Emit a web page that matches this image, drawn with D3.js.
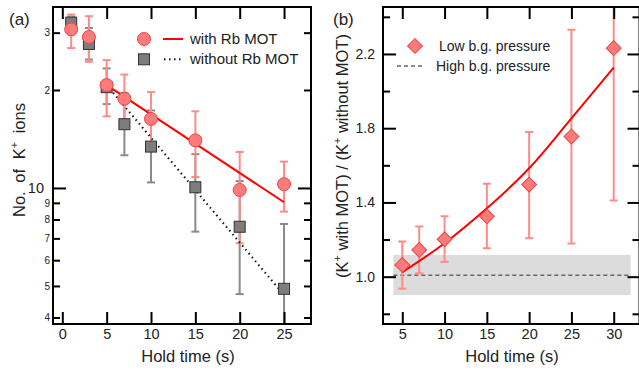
<!DOCTYPE html>
<html>
<head>
<meta charset="utf-8">
<script src="https://cdn.jsdelivr.net/npm/d3@7"></script>
<style>
  html, body { margin: 0; padding: 0; background: #fff; }
  svg { display: block; font-family: 'Liberation Sans', Arial, sans-serif; }
</style>
</head>
<body>
<svg id="chart" width="639" height="371"></svg>
<script>
// panel (a): K+ ion counts vs hold time
const holdA = [1, 3, 5, 7, 10, 15, 20, 25];
const withMot = [30.7, 29.1, 20.7, 18.8, 16.3, 14.0, 9.86, 10.27];
const withMotHi = [34.1, 33.7, 24.7, 22.3, 19.7, 17.2, 12.9, 12.05];
const withMotLo = [26.9, 24.4, 16.6, 15.8, 13.5, 10.8, 6.76, 8.46];
const withoutMot = [32.2, 27.7, 20.4, 15.7, 13.4, 10.05, 7.6, 4.9];
const withoutMotHi = [33.6, 31.0, 23.3, 19.6, 17.3, 12.7, 10.5, 7.75];
const withoutMotLo = [30.4, 24.8, 18.1, 12.6, 10.4, 7.34, 4.72, 3.0];
const fitAx = [5, 25];
const fitWithY = [20.7, 9.04];
const fitWithoutY = [20.7, 4.69];
const xTicksA = [0, 5, 10, 15, 20, 25];
const yMinorA = [4, 5, 6, 7, 8, 9, 20, 30];
const yMajorA = [10];

// panel (b): ratio with / without MOT
const holdB = [5, 7, 10, 15, 20, 25, 30];
const ratio = [1.063, 1.144, 1.201, 1.325, 1.496, 1.755, 2.231];
const ratioHi = [1.19, 1.27, 1.325, 1.50, 1.78, 2.33, 3.05];
const ratioLo = [0.935, 1.018, 1.08, 1.153, 1.207, 1.179, 1.41];
const fitBx = [5, 10, 15, 20, 25, 30];
const fitBy = [1.024, 1.18, 1.368, 1.584, 1.853, 2.126];
const highX = [3.94, 32];
const highMean = 1.008;
const highLo = 0.901;
const highHi = 1.117;
const xTicksB = [5, 10, 15, 20, 25, 30];
const yMajorB = [1.0, 1.4, 1.8, 2.2];
const yMinorB = [0.8, 1.2, 1.6, 2.0, 2.4];

const svg = d3.select('#chart');
const red = '#ff0000', ptFill = '#ff7a7a', ptStroke = '#ee4444', barRed = '#ff8a8a';
const grayBar = '#8a8a8a';

function frame(g, x, y, l, r, t, b) {
  g.append('rect').attr('x', l).attr('y', t).attr('width', r - l).attr('height', b - t)
    .attr('fill', 'none').attr('stroke', '#000').attr('stroke-width', 2);
}

function styleAxis(sel, fs) {
  sel.select('.domain').remove();
  sel.selectAll('.tick line').attr('stroke', '#000').attr('stroke-width', 2);
  sel.selectAll('.tick text').attr('font-size', fs).attr('fill', '#222')
    .attr('font-family', "'Liberation Sans', Arial, sans-serif");
}

function errBars(g, xs, lo, hi, x, y, color, cap) {
  const grp = g.append('g');
  xs.forEach((d, i) => {
    grp.append('line').attr('x1', x(d)).attr('x2', x(d)).attr('y1', y(lo[i])).attr('y2', y(hi[i]))
      .attr('stroke', color).attr('stroke-width', 2);
    [lo[i], hi[i]].forEach(v => {
      grp.append('line').attr('x1', x(d) - cap).attr('x2', x(d) + cap).attr('y1', y(v)).attr('y2', y(v))
        .attr('stroke', color).attr('stroke-width', 2);
    });
  });
}

// ---------- panel (a)
const aL = 53, aR = 311, aT = 7, aB = 324;
const xA = d3.scaleLinear().domain([-1.05, 28.04]).range([aL, aR]);
const yA = d3.scaleLog().domain([3.82, 35.97]).range([aB, aT]);
const ga = svg.append('g');
ga.append('clipPath').attr('id', 'clipA').append('rect')
  .attr('x', aL).attr('y', aT).attr('width', aR - aL).attr('height', aB - aT);
const pa = ga.append('g').attr('clip-path', 'url(#clipA)');

errBars(pa, holdA, withoutMotLo, withoutMotHi, xA, yA, grayBar, 4);
errBars(pa, holdA, withMotLo, withMotHi, xA, yA, barRed, 4);

pa.append('path')
  .datum(fitAx.map((d, i) => [d, fitWithoutY[i]]))
  .attr('d', d3.line().x(d => xA(d[0])).y(d => yA(d[1])))
  .attr('fill', 'none').attr('stroke', '#111').attr('stroke-width', 2).attr('stroke-dasharray', '1.5,3.5');

pa.selectAll('rect.sq').data(holdA).join('rect').attr('class', 'sq')
  .attr('x', (d) => xA(d) - 5.5).attr('y', (d, i) => yA(withoutMot[i]) - 5.5)
  .attr('width', 11).attr('height', 11)
  .attr('fill', '#7d7d7d').attr('stroke', '#333').attr('stroke-width', 1);

pa.append('path')
  .datum(fitAx.map((d, i) => [d, fitWithY[i]]))
  .attr('d', d3.line().x(d => xA(d[0])).y(d => yA(d[1])))
  .attr('fill', 'none').attr('stroke', red).attr('stroke-width', 2);

pa.selectAll('circle.pt').data(holdA).join('circle').attr('class', 'pt')
  .attr('cx', d => xA(d)).attr('cy', (d, i) => yA(withMot[i])).attr('r', 6.5)
  .attr('fill', ptFill).attr('stroke', ptStroke).attr('stroke-width', 1);

// axes (a)
ga.append('g').attr('transform', `translate(0,${aB})`)
  .call(d3.axisBottom(xA).tickValues(xTicksA).tickSize(-12).tickPadding(5))
  .call(s => styleAxis(s, 14.5));
ga.append('g').attr('transform', `translate(0,${aT})`)
  .call(d3.axisTop(xA).tickValues(xTicksA).tickSize(-12).tickFormat(''))
  .call(s => styleAxis(s, 14));
ga.append('g').attr('transform', `translate(${aL},0)`)
  .call(d3.axisLeft(yA).tickValues(yMinorA).tickSize(-7).tickPadding(3)
    .tickFormat(d => String(d).charAt(0)))
  .call(s => styleAxis(s, 10));
ga.append('g').attr('transform', `translate(${aL},0)`)
  .call(d3.axisLeft(yA).tickValues(yMajorA).tickSize(-13).tickPadding(9).tickFormat(d3.format('d')))
  .call(s => styleAxis(s, 14.5));
ga.append('g').attr('transform', `translate(${aR},0)`)
  .call(d3.axisRight(yA).tickValues(yMinorA).tickSize(-7).tickFormat(''))
  .call(s => styleAxis(s, 10));
ga.append('g').attr('transform', `translate(${aR},0)`)
  .call(d3.axisRight(yA).tickValues(yMajorA).tickSize(-13).tickFormat(''))
  .call(s => styleAxis(s, 10));
frame(ga, xA, yA, aL, aR, aT, aB);

ga.append('text').attr('x', 9).attr('y', 25).attr('font-size', 17).attr('fill', '#222').text('(a)');
ga.append('text').attr('x', (aL + aR) / 2 + 6).attr('y', 362).attr('text-anchor', 'middle')
  .attr('font-size', 16.5).attr('fill', '#222').text('Hold time (s)');
const ta = ga.append('text').attr('transform', 'translate(25,160) rotate(-90)')
  .attr('text-anchor', 'middle').attr('font-size', 16.5).attr('fill', '#222');
ta.append('tspan').text('No.');
ta.append('tspan').attr('dx', 4).text(' of');
ta.append('tspan').attr('dx', 5).text(' K');
ta.append('tspan').attr('dy', -7).attr('font-size', 11).text('+');
ta.append('tspan').attr('dy', 7).attr('dx', 4).text(' ions');

// legend (a)
ga.append('circle').attr('cx', 144).attr('cy', 39).attr('r', 6.5)
  .attr('fill', ptFill).attr('stroke', ptStroke);
ga.append('line').attr('x1', 163).attr('x2', 183).attr('y1', 39).attr('y2', 39)
  .attr('stroke', red).attr('stroke-width', 2);
ga.append('text').attr('x', 190).attr('y', 43.5).attr('font-size', 15).attr('fill', '#222').text('with Rb MOT');
ga.append('rect').attr('x', 138.5).attr('y', 53.8).attr('width', 11).attr('height', 11)
  .attr('fill', '#7d7d7d').attr('stroke', '#333');
ga.append('line').attr('x1', 164).attr('x2', 184).attr('y1', 59.3).attr('y2', 59.3)
  .attr('stroke', '#111').attr('stroke-width', 2).attr('stroke-dasharray', '1.5,3.5');
ga.append('text').attr('x', 190).attr('y', 63.8).attr('font-size', 15).attr('fill', '#222').text('without Rb MOT');

// ---------- panel (b)
const bL = 383, bR = 639.5, bT = 7, bB = 324;
const xB = d3.scaleLinear().domain([2.72, 33.05]).range([bL, bR]);
const yB = d3.scaleLinear().domain([0.745, 2.453]).range([bB, bT]);
const gb = svg.append('g');
gb.append('clipPath').attr('id', 'clipB').append('rect')
  .attr('x', bL).attr('y', bT).attr('width', bR - bL).attr('height', bB - bT);
const pb = gb.append('g').attr('clip-path', 'url(#clipB)');

pb.append('rect').attr('x', xB(highX[0])).attr('y', yB(highHi))
  .attr('width', xB(highX[1]) - xB(highX[0])).attr('height', yB(highLo) - yB(highHi))
  .attr('fill', '#dcdcdc');
pb.append('line').attr('x1', xB(highX[0])).attr('x2', xB(highX[1]))
  .attr('y1', yB(highMean)).attr('y2', yB(highMean))
  .attr('stroke', '#666').attr('stroke-width', 1.5).attr('stroke-dasharray', '4,3');

errBars(pb, holdB, ratioLo, ratioHi, xB, yB, barRed, 4);

pb.append('path')
  .datum(fitBx.map((d, i) => [d, fitBy[i]]))
  .attr('d', d3.line().x(d => xB(d[0])).y(d => yB(d[1])).curve(d3.curveMonotoneX))
  .attr('fill', 'none').attr('stroke', red).attr('stroke-width', 2);

const diamond = d3.symbol().type(d3.symbolSquare).size(110);
pb.selectAll('path.dm').data(holdB).join('path').attr('class', 'dm')
  .attr('d', diamond)
  .attr('transform', (d, i) => `translate(${xB(d)},${yB(ratio[i])}) rotate(45)`)
  .attr('fill', ptFill).attr('stroke', ptStroke).attr('stroke-width', 1);

gb.append('g').attr('transform', `translate(0,${bB})`)
  .call(d3.axisBottom(xB).tickValues(xTicksB).tickSize(-12).tickPadding(5))
  .call(s => styleAxis(s, 14.5));
gb.append('g').attr('transform', `translate(0,${bT})`)
  .call(d3.axisTop(xB).tickValues(xTicksB).tickSize(-12).tickFormat(''))
  .call(s => styleAxis(s, 14));
gb.append('g').attr('transform', `translate(${bL},0)`)
  .call(d3.axisLeft(yB).tickValues(yMajorB).tickSize(-13).tickPadding(8).tickFormat(d3.format('.1f')))
  .call(s => styleAxis(s, 14));
gb.append('g').attr('transform', `translate(${bL},0)`)
  .call(d3.axisLeft(yB).tickValues(yMinorB).tickSize(-7).tickFormat(''))
  .call(s => styleAxis(s, 14));
gb.append('g').attr('transform', `translate(${bR},0)`)
  .call(d3.axisRight(yB).tickValues(yMajorB).tickSize(-12).tickFormat(''))
  .call(s => styleAxis(s, 14));
gb.append('g').attr('transform', `translate(${bR},0)`)
  .call(d3.axisRight(yB).tickValues(yMinorB).tickSize(-7).tickFormat(''))
  .call(s => styleAxis(s, 14));
frame(gb, xB, yB, bL, bR, bT, bB);

gb.append('text').attr('x', 333).attr('y', 25).attr('font-size', 17).attr('fill', '#222').text('(b)');
gb.append('text').attr('x', 512).attr('y', 362).attr('text-anchor', 'middle')
  .attr('font-size', 16.5).attr('fill', '#222').text('Hold time (s)');
const tb = gb.append('text').attr('transform', 'translate(348,156) rotate(-90)')
  .attr('text-anchor', 'middle').attr('font-size', 16.5).attr('fill', '#222');
tb.append('tspan').text('(K');
tb.append('tspan').attr('dy', -7).attr('font-size', 11).text('+');
tb.append('tspan').attr('dy', 7).text(' with MOT) / (K');
tb.append('tspan').attr('dy', -7).attr('font-size', 11).text('+');
tb.append('tspan').attr('dy', 7).text(' without MOT)');

// legend (b)
gb.append('path').attr('d', diamond)
  .attr('transform', 'translate(415,46) rotate(45)')
  .attr('fill', ptFill).attr('stroke', ptStroke);
gb.append('text').attr('x', 439).attr('y', 50.5).attr('font-size', 14).attr('fill', '#222').text('Low b.g. pressure');
gb.append('line').attr('x1', 397).attr('x2', 424).attr('y1', 66).attr('y2', 66)
  .attr('stroke', '#666').attr('stroke-width', 1.5).attr('stroke-dasharray', '4,3');
gb.append('text').attr('x', 436).attr('y', 70.5).attr('font-size', 14).attr('fill', '#222').text('High b.g. pressure');
</script>
</body>
</html>
